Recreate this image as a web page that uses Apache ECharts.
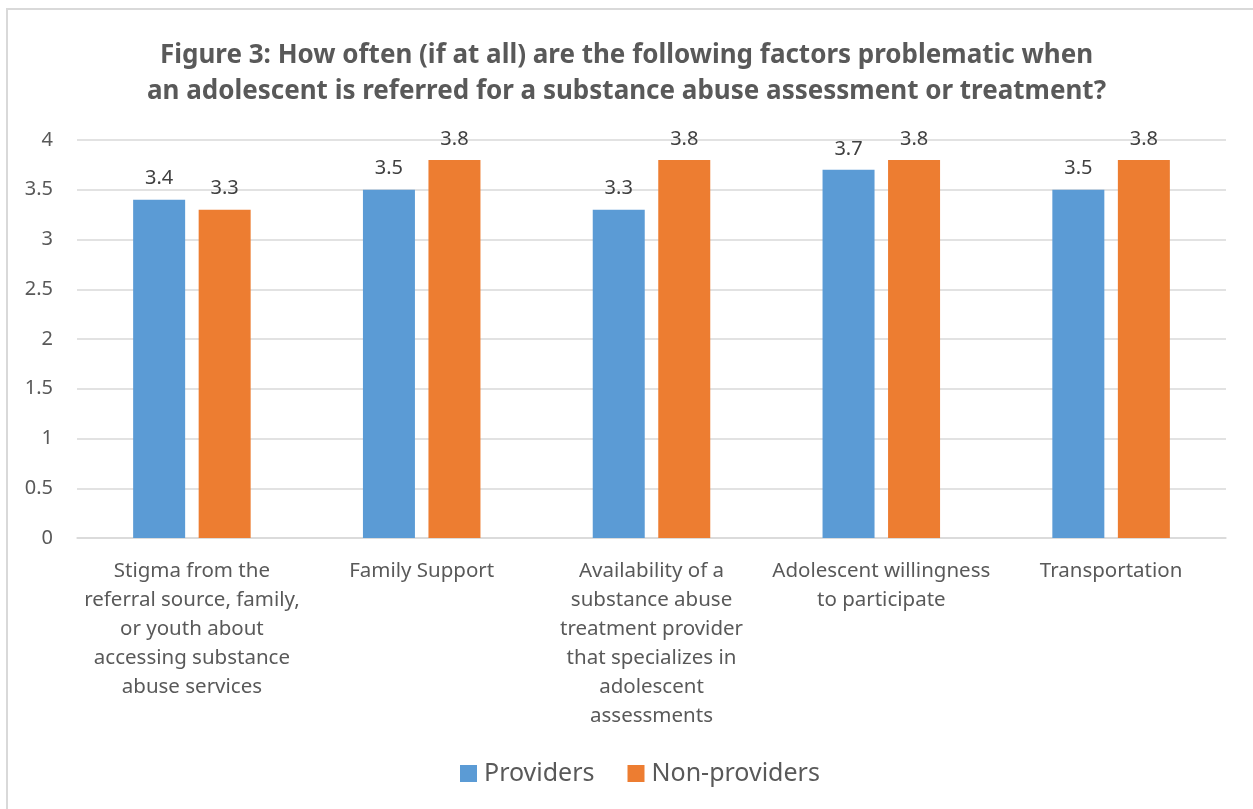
<!DOCTYPE html>
<html>
<head>
<meta charset="utf-8">
<title>Figure 3</title>
<script src="https://cdn.jsdelivr.net/npm/echarts@6/dist/echarts.min.js"></script>
<style>
  html, body { margin: 0; padding: 0; background: #ffffff; }
  #chart { width: 1253px; height: 809px; }
</style>
</head>
<body>
<div id="chart"></div>
<script>
// Survey factors (category labels, with their line breaks)
const categories = [
  'Stigma from the\nreferral source, family,\nor youth about\naccessing substance\nabuse services',
  'Family Support',
  'Availability of a\nsubstance abuse\ntreatment provider\nthat specializes in\nadolescent\nassessments',
  'Adolescent willingness\nto participate',
  'Transportation'
];

// Mean ratings per group
const providers = [3.4, 3.5, 3.3, 3.7, 3.5];
const nonProviders = [3.3, 3.8, 3.8, 3.8, 3.8];

const seriesNames = ['Providers', 'Non-providers'];

const FONT = '"Noto Sans", "Open Sans", sans-serif';
const TEXT = '#595959';

const chart = echarts.init(document.getElementById('chart'), null, { renderer: 'canvas' });

const labelStyle = {
  show: true,
  position: 'top',
  distance: 11,
  fontFamily: FONT,
  fontSize: 20,
  color: '#404040'
};

chart.setOption({
  backgroundColor: '#ffffff',
  animation: false,
  title: {
    text: 'Figure 3: How often (if at all) are the following factors problematic when\nan adolescent is referred for a substance abuse assessment or treatment?',
    left: 'center',
    top: 33,
    textStyle: {
      fontFamily: FONT,
      fontWeight: 'bold',
      fontSize: 26,
      lineHeight: 36,
      color: TEXT,
      align: 'center'
    }
  },
  graphic: [{
    type: 'rect',
    silent: true,
    shape: { x: 7, y: 9, width: 1300, height: 900 },
    style: { fill: 'none', stroke: '#D9D9D9', lineWidth: 2 }
  }],
  legend: {
    data: seriesNames,
    top: 756,
    left: 455,
    itemWidth: 17,
    itemHeight: 17,
    itemGap: 33,
    icon: 'rect',
    textStyle: { fontFamily: FONT, fontSize: 25, color: TEXT, padding: [0, 0, 0, 2] }
  },
  grid: {
    left: 77,
    right: 27,
    top: 140,
    bottom: 271,
    containLabel: false
  },
  xAxis: {
    type: 'category',
    data: categories,
    axisLine: { lineStyle: { color: '#D9D9D9', width: 1.5 } },
    axisTick: { show: false },
    axisLabel: {
      interval: 0,
      margin: 19,
      fontFamily: FONT,
      fontSize: 20.5,
      lineHeight: 29,
      color: TEXT,
      align: 'center',
      verticalAlign: 'top'
    }
  },
  yAxis: {
    type: 'value',
    min: 0,
    max: 4,
    interval: 0.5,
    axisLine: { show: false },
    axisTick: { show: false },
    splitLine: { lineStyle: { color: '#D9D9D9', width: 1.5 } },
    axisLabel: {
      margin: 24,
      fontFamily: FONT,
      fontSize: 20,
      color: TEXT
    }
  },
  series: [
    {
      name: seriesNames[0],
      type: 'bar',
      data: providers,
      barWidth: 52,
      barGap: '26%',
      itemStyle: { color: '#5B9BD5' },
      label: labelStyle
    },
    {
      name: seriesNames[1],
      type: 'bar',
      data: nonProviders,
      barWidth: 52,
      barGap: '26%',
      itemStyle: { color: '#ED7D31' },
      label: labelStyle
    }
  ]
});
</script>
</body>
</html>
